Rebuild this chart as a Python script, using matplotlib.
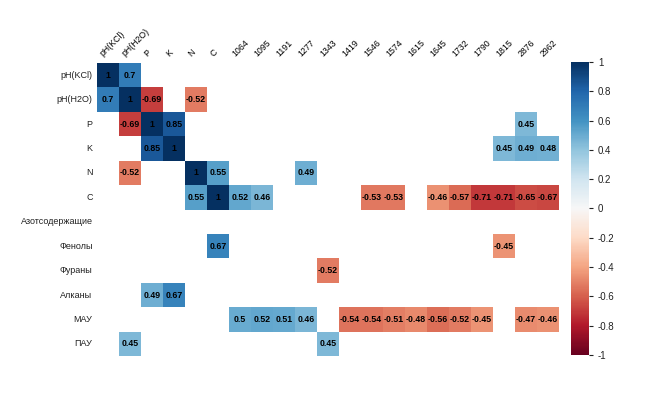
import numpy as np
import matplotlib
matplotlib.use('Agg')
import matplotlib.pyplot as plt

plt.rcParams['font.family'] = ['Liberation Sans', 'DejaVu Sans']

n = np.nan
cols = ['pH(KCl)', 'pH(H2O)', 'P', 'K', 'N', 'C', '1064', '1095', '1191', '1277',
        '1343', '1419', '1546', '1574', '1615', '1645', '1732', '1790', '1815',
        '2876', '2962']
rows = ['pH(KCl)', 'pH(H2O)', 'P', 'K', 'N', 'C', 'Азотсодержащие', 'Фенолы',
        'Фураны', 'Алканы', 'МАУ', 'ПАУ']

# only significant correlations, blanks are nan
vals = [
    [1, 0.7, n, n, n, n, n, n, n, n, n, n, n, n, n, n, n, n, n, n, n],
    [0.7, 1, -0.69, n, -0.52, n, n, n, n, n, n, n, n, n, n, n, n, n, n, n, n],
    [n, -0.69, 1, 0.85, n, n, n, n, n, n, n, n, n, n, n, n, n, n, n, 0.45, n],
    [n, n, 0.85, 1, n, n, n, n, n, n, n, n, n, n, n, n, n, n, 0.45, 0.49, 0.48],
    [n, -0.52, n, n, 1, 0.55, n, n, n, 0.49, n, n, n, n, n, n, n, n, n, n, n],
    [n, n, n, n, 0.55, 1, 0.52, 0.46, n, n, n, n, -0.53, -0.53, n, -0.46, -0.57, -0.71, -0.71, -0.65, -0.67],
    [n, n, n, n, n, n, n, n, n, n, n, n, n, n, n, n, n, n, n, n, n],
    [n, n, n, n, n, 0.67, n, n, n, n, n, n, n, n, n, n, n, n, -0.45, n, n],
    [n, n, n, n, n, n, n, n, n, n, -0.52, n, n, n, n, n, n, n, n, n, n],
    [n, n, 0.49, 0.67, n, n, n, n, n, n, n, n, n, n, n, n, n, n, n, n, n],
    [n, n, n, n, n, n, 0.5, 0.52, 0.51, 0.46, n, -0.54, -0.54, -0.51, -0.48, -0.56, -0.52, -0.45, n, -0.47, -0.46],
    [n, 0.45, n, n, n, n, n, n, n, n, 0.45, n, n, n, n, n, n, n, n, n, n],
]
M = np.array(vals, dtype=float)

cb_ticks = [-1, -0.8, -0.6, -0.4, -0.2, 0, 0.2, 0.4, 0.6, 0.8, 1]
cb_labels = ['-1', '-0.8', '-0.6', '-0.4', '-0.2', '0', '0.2', '0.4', '0.6', '0.8', '1']

fig = plt.figure(figsize=(6.53, 3.93), dpi=100)
ax = fig.add_axes([0.1485, 0.094, 0.7075, 0.7455])
cax = fig.add_axes([0.875, 0.097, 0.027, 0.745])

mesh = ax.pcolormesh(np.ma.masked_invalid(M), cmap='RdBu', vmin=-1, vmax=1)
ax.set_xlim(0, len(cols))
ax.set_ylim(len(rows), 0)
ax.axis('off')

for i in range(len(rows)):
    for j in range(len(cols)):
        v = M[i, j]
        if not np.isnan(v):
            ax.text(j + 0.5, i + 0.5, f'{v:g}', ha='center', va='center',
                    fontsize=6.3, fontweight='bold', color='black')
    ax.text(-0.2, i + 0.5, rows[i], ha='right', va='center', fontsize=6.5, color='#222222')

for j, c in enumerate(cols):
    ax.text(j + 0.35, -0.2, c, rotation=45, ha='left', va='bottom',
            rotation_mode='anchor', fontsize=6.3, color='black')

cb = fig.colorbar(mesh, cax=cax, ticks=cb_ticks)
cb.outline.set_visible(False)
cb.ax.tick_params(labelsize=7, length=3, colors='#222222')
cb.ax.set_yticklabels(cb_labels)

fig.savefig('out.png', dpi=100)
